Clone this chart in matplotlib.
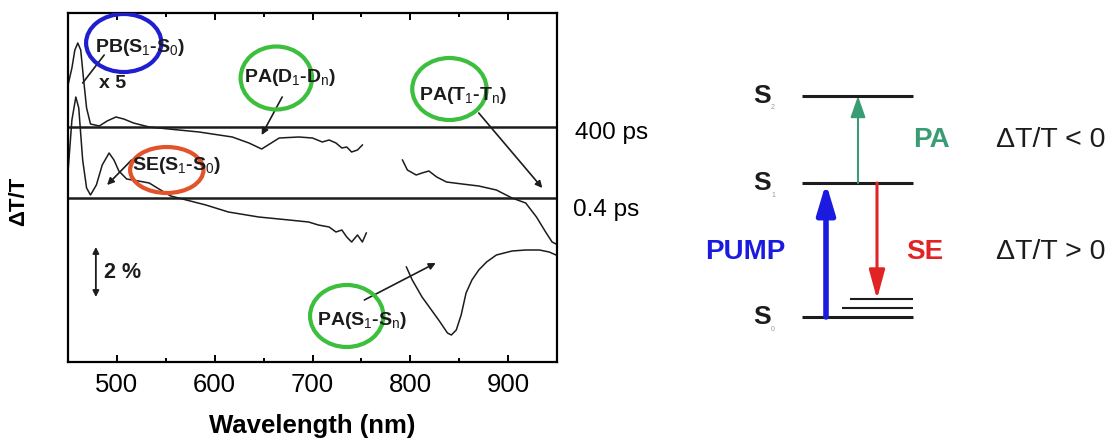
import numpy as np
import matplotlib
matplotlib.use("Agg")
import matplotlib.pyplot as plt
from matplotlib.patches import Ellipse
from matplotlib.ticker import MultipleLocator

plt.rcParams["font.family"] = ["Liberation Sans", "DejaVu Sans"]
plt.rcParams["mathtext.fontset"] = "custom"
plt.rcParams["mathtext.rm"] = "Liberation Sans"
plt.rcParams["mathtext.it"] = "Liberation Sans:italic"
plt.rcParams["mathtext.bf"] = "Liberation Sans:bold"

# transient spectra, dT/T in % relative to each trace's own baseline
# 400 ps trace is shown x5, two detector ranges (visible / near-IR)
WL_400_VIS = [450, 454, 457, 460, 463, 466, 469, 473, 482, 490, 499, 507, 517, 533,
              553, 584, 618, 635, 648, 666, 686, 700, 710, 717, 724, 730, 735, 740, 746, 751]
DT_400_VIS = [1.68, 2.36, 3.08, 3.36, 3.08, 1.88, 0.76, 0.12, 0.04, 0.24, 0.40, 0.32, 0.16, 0.0,
              -0.08, -0.20, -0.40, -0.64, -0.88, -0.44, -0.40, -0.44, -0.60, -0.52, -0.64, -0.84,
              -0.80, -1.00, -0.92, -0.72]
WL_400_NIR = [792, 797, 806, 812, 819, 827, 837, 853, 870, 888, 904, 918, 929, 939, 945, 949]
DT_400_NIR = [-1.32, -1.72, -1.92, -1.84, -1.76, -2.00, -2.20, -2.28, -2.36, -2.52, -2.84,
              -3.04, -3.60, -4.24, -4.60, -4.68]

WL_04_VIS = [450, 454, 458, 461, 465, 469, 473, 479, 485, 492, 497, 502, 510, 522, 533, 543,
             555, 563, 591, 614, 645, 676, 696, 706, 717, 724, 730, 735, 740, 746, 751, 755]
DT_04_VIS = [1.04, 3.12, 4.04, 3.60, 1.52, 0.40, 0.12, 0.52, 1.32, 1.80, 1.52, 1.08, 0.76, 0.68,
             0.60, 0.36, 0.08, 0.0, -0.28, -0.56, -0.76, -0.88, -0.96, -1.08, -1.16, -1.36,
             -1.28, -1.56, -1.76, -1.48, -1.76, -1.40]
WL_04_NIR = [796, 802, 812, 829, 838, 842, 847, 852, 857, 863, 870, 878, 888, 904, 918, 932, 942, 949]
DT_04_NIR = [-2.76, -3.28, -3.96, -4.88, -5.40, -5.48, -5.28, -4.68, -3.80, -3.28, -2.88, -2.56,
             -2.28, -2.12, -2.08, -2.08, -2.16, -2.28]

OFFSET_400 = 2.84
OFFSET_04 = 0.0
DELAY_LABELS = ["400 ps", "0.4 ps"]
SCALE_BAR = 2.0  # %

# energy levels for the scheme (S0 = 0, S1 = 1)
LEVELS = {"2": 1.65, "1": 1.0, "0": 0.0}
VIB_LEVELS = [0.067, 0.134]

INK = "#1c1c1c"
BLUE = "#1b1be0"
RED = "#e02424"
TEAL = "#3a9c74"
CIRCLE_GREEN = "#3cbf3c"
CIRCLE_BLUE = "#1f1fd0"
CIRCLE_RED = "#e2532a"

fig = plt.figure(figsize=(11.17, 4.44), dpi=100)
ax = fig.add_axes([68 / 1117, 82 / 444, 489 / 1117, 349 / 444])

for wl, dt, off in [(WL_400_VIS, DT_400_VIS, OFFSET_400), (WL_400_NIR, DT_400_NIR, OFFSET_400),
                    (WL_04_VIS, DT_04_VIS, OFFSET_04), (WL_04_NIR, DT_04_NIR, OFFSET_04)]:
    ax.plot(wl, np.array(dt) + off, color=INK, lw=1.1, solid_joinstyle="round")

for off in (OFFSET_400, OFFSET_04):
    ax.axhline(off, color=INK, lw=1.8)

ax.set_xlim(450, 950)
ax.set_ylim(-6.56, 7.4)
ax.set_yticks([])
ax.xaxis.set_major_locator(MultipleLocator(100))
ax.xaxis.set_minor_locator(MultipleLocator(50))
ax.tick_params(axis="x", which="both", direction="in", top=True, width=1.4, pad=8,
               labelsize=18.5)
ax.tick_params(axis="x", which="major", length=5)
ax.tick_params(axis="x", which="minor", length=3)
for s in ax.spines.values():
    s.set_linewidth(1.6)
ax.set_xlabel("Wavelength (nm)", fontsize=18.5, fontweight="bold", labelpad=12)
ax.set_ylabel("ΔT/T", fontsize=16, fontweight="bold")
ax.yaxis.set_label_coords(-0.08, 0.46)

# delay labels right of the frame
yx = ax.get_yaxis_transform()
ax.text(1.037, OFFSET_400 - 0.24, DELAY_LABELS[0], transform=yx, fontsize=17.5,
        va="center", ha="left", clip_on=False)
ax.text(1.033, OFFSET_04 - 0.48, DELAY_LABELS[1], transform=yx, fontsize=17.5,
        va="center", ha="left", clip_on=False)

# 2 % scale bar
ax.annotate("", xy=(478.5, -1.96), xytext=(478.5, -1.96 - SCALE_BAR),
            arrowprops=dict(arrowstyle="<|-|>", color=INK, lw=1.3, mutation_scale=9,
                            shrinkA=0, shrinkB=0))
ax.text(486.5, -1.96 - SCALE_BAR / 2, "2 %", fontsize=15.5, fontweight="bold",
        va="center", ha="left", color=INK)

# circled assignments
circles = [
    ((507, 6.2), 77, 2.32, CIRCLE_BLUE),
    ((663, 4.8), 73, 2.52, CIRCLE_GREEN),
    ((840, 4.36), 76, 2.48, CIRCLE_GREEN),
    ((551, 1.12), 75, 1.84, CIRCLE_RED),
    ((735, -4.72), 75, 2.48, CIRCLE_GREEN),
]
for center, w, h, c in circles:
    ax.add_patch(Ellipse(center, w, h, fill=False, ec=c, lw=3.0, zorder=4))

labels = [
    (477.5, 6.04, r"PB(S$_1$-S$_0$)"),
    (481.5, 4.6, "x 5"),
    (630, 4.84, r"PA(D$_1$-D$_{\rm n}$)"),
    (809, 4.12, r"PA(T$_1$-T$_{\rm n}$)"),
    (515, 1.32, r"SE(S$_1$-S$_0$)"),
    (704.5, -4.88, r"PA(S$_1$-S$_{\rm n}$)"),
]
for x, y, s in labels:
    ax.text(x, y, s, fontsize=14, fontweight="bold", va="center", ha="left", color=INK,
            zorder=5)

pointers = [
    ((487, 5.72), (465, 4.6), "-"),
    ((669, 4.04), (648, 2.52), "-|>"),
    ((870, 3.4), (935, 0.4), "-|>"),
    ((515, 1.52), (490, 0.52), "-|>"),
    ((753, -4.08), (826, -2.6), "-|>"),
]
for start, end, style in pointers:
    ax.annotate("", xy=end, xytext=start,
                arrowprops=dict(arrowstyle=style, color=INK, lw=1.2, mutation_scale=10,
                                shrinkA=0, shrinkB=0))

# level scheme on the right
ex = fig.add_axes([700 / 1117, 0, 417 / 1117, 1])
ex.set_xlim(0, 417)
ex.set_ylim(-0.948, 2.366)
ex.axis("off")

for name, e in LEVELS.items():
    ex.plot([102, 213], [e, e], color=INK, lw=2.2, solid_capstyle="butt")
    ex.text(62, e, "S", fontsize=19, fontweight="bold", ha="center", va="center", color=INK)
    ex.text(71, e - 0.09, name, fontsize=5, ha="left", va="center", color="#999999")
for e, x0 in zip(VIB_LEVELS, [142, 150]):
    ex.plot([x0, 213], [e, e], color=INK, lw=1.5, solid_capstyle="butt")

ex.annotate("", xy=(126, LEVELS["1"]), xytext=(126, LEVELS["0"]),
            arrowprops=dict(arrowstyle="-|>,head_length=1.0,head_width=0.3", color=BLUE,
                            lw=4, mutation_scale=18, shrinkA=0, shrinkB=0))
ex.annotate("", xy=(177, VIB_LEVELS[1]), xytext=(177, LEVELS["1"]),
            arrowprops=dict(arrowstyle="-|>,head_length=1.1,head_width=0.3", color=RED,
                            lw=2.2, mutation_scale=16, shrinkA=0, shrinkB=0))
ex.annotate("", xy=(158, LEVELS["2"]), xytext=(158, LEVELS["1"]),
            arrowprops=dict(arrowstyle="-|>,head_length=1.0,head_width=0.35", color=TEAL,
                            lw=1.5, mutation_scale=13, shrinkA=0, shrinkB=0))

ex.text(45, 0.485, "PUMP", fontsize=20, fontweight="bold", color=BLUE, ha="center", va="center")
ex.text(225, 0.485, "SE", fontsize=20, fontweight="bold", color=RED, ha="center", va="center")
ex.text(231, 1.32, "PA", fontsize=20, fontweight="bold", color=TEAL, ha="center", va="center")
ex.text(351, 1.32, "ΔT/T < 0", fontsize=20.5, color=INK, ha="center", va="center")
ex.text(351, 0.485, "ΔT/T > 0", fontsize=20.5, color=INK, ha="center", va="center")

fig.savefig("out.png", dpi=100)
